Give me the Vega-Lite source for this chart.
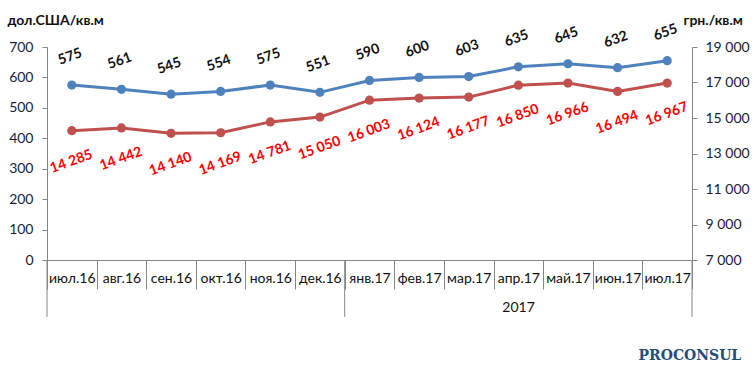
{
  "$schema": "https://vega.github.io/schema/vega-lite/v6.json",
  "width": 645,
  "height": 213,
  "autosize": {"type": "none"},
  "padding": {"left": 47, "top": 47, "right": 62, "bottom": 122},
  "background": "white",
  "config": {
    "view": {"stroke": null},
    "font": "Lato",
    "locale": {"number": {"decimal": ",", "thousands": "\u00a0", "grouping": [3], "currency": ["", ""]}}
  },
  "title": {
    "text": "PROCONSUL",
    "orient": "bottom",
    "anchor": "end",
    "font": "DejaVu Serif",
    "fontSize": 14,
    "fontWeight": "bold",
    "color": "#1F4E79",
    "offset": 32,
    "dx": -8
  },
  "data": {
    "values": [
      {"m": "июл.16", "usd": 575, "uah": 14285},
      {"m": "авг.16", "usd": 561, "uah": 14442},
      {"m": "сен.16", "usd": 545, "uah": 14140},
      {"m": "окт.16", "usd": 554, "uah": 14169},
      {"m": "ноя.16", "usd": 575, "uah": 14781},
      {"m": "дек.16", "usd": 551, "uah": 15050},
      {"m": "янв.17", "usd": 590, "uah": 16003},
      {"m": "фев.17", "usd": 600, "uah": 16124},
      {"m": "мар.17", "usd": 603, "uah": 16177},
      {"m": "апр.17", "usd": 635, "uah": 16850},
      {"m": "май.17", "usd": 645, "uah": 16966},
      {"m": "июн.17", "usd": 632, "uah": 16494},
      {"m": "июл.17", "usd": 655, "uah": 16967}
    ]
  },
  "encoding": {
    "x": {
      "field": "m",
      "type": "nominal",
      "sort": null,
      "scale": {
        "domain": ["июл.16", "авг.16", "сен.16", "окт.16", "ноя.16", "дек.16", "янв.17", "фев.17", "мар.17", "апр.17", "май.17", "июн.17", "июл.17"],
        "paddingInner": 0,
        "paddingOuter": 0
      },
      "axis": {
        "orient": "bottom",
        "labelAngle": 0,
        "tickBand": "extent",
        "tickSize": 29,
        "tickColor": "#868686",
        "domainColor": "#868686",
        "labelPadding": -18,
        "labelFontSize": 14,
        "labelColor": "#111",
        "title": "2017",
        "titleFontWeight": "normal",
        "titleFontSize": 14,
        "titleColor": "#111",
        "titleX": 471,
        "titleY": 47,
        "titleBaseline": "middle"
      }
    }
  },
  "layer": [
    {
      "encoding": {
        "y": {
          "field": "usd",
          "type": "quantitative",
          "scale": {"domain": [0, 700]},
          "axis": {
            "orient": "left",
            "values": [0, 100, 200, 300, 400, 500, 600, 700],
            "grid": false,
            "tickSize": 5,
            "tickColor": "#868686",
            "domainColor": "#868686",
            "labelPadding": 9,
            "labelFontSize": 14,
            "labelColor": "#1a1a3a",
            "title": "дол.США/кв.м",
            "titleAngle": 0,
            "titleX": -40,
            "titleY": -27,
            "titleAlign": "left",
            "titleBaseline": "middle",
            "titleFontSize": 14,
            "titleFontWeight": "bold",
            "titleColor": "#111"
          }
        }
      },
      "layer": [
        {
          "transform": [{"filter": "datum.m == 'июл.16' || datum.m == 'янв.17'"}],
          "mark": {"type": "rule", "color": "#868686", "strokeWidth": 1},
          "encoding": {
            "x": {"field": "m", "type": "nominal", "sort": null, "bandPosition": 0},
            "y": {"datum": 0, "type": "quantitative"},
            "y2": {"datum": -187}
          }
        },
        {
          "transform": [{"filter": "datum.m == 'июл.17'"}],
          "mark": {"type": "rule", "color": "#868686", "strokeWidth": 1},
          "encoding": {
            "x": {"field": "m", "type": "nominal", "sort": null, "bandPosition": 1},
            "y": {"datum": 0, "type": "quantitative"},
            "y2": {"datum": -187}
          }
        },
        {
          "mark": {"type": "line", "color": "#4F81BD", "strokeWidth": 3},
          "encoding": {"x": {"field": "m", "type": "nominal", "sort": null, "bandPosition": 0.5}}
        },
        {
          "mark": {"type": "point", "filled": true, "opacity": 1, "color": "#4F81BD", "size": 85},
          "encoding": {"x": {"field": "m", "type": "nominal", "sort": null, "bandPosition": 0.5}}
        },
        {
          "mark": {"type": "text", "angle": 340, "dy": -27, "dx": 8, "fontSize": 14, "fontWeight": "bold", "color": "#111"},
          "encoding": {
            "x": {"field": "m", "type": "nominal", "sort": null, "bandPosition": 0.5},
            "text": {"field": "usd", "type": "quantitative", "format": ",d"}
          }
        }
      ]
    },
    {
      "encoding": {
        "y": {
          "field": "uah",
          "type": "quantitative",
          "scale": {"domain": [7000, 19000]},
          "axis": {
            "orient": "right",
            "values": [7000, 9000, 11000, 13000, 15000, 17000, 19000],
            "format": ",d",
            "grid": false,
            "tickSize": 5,
            "tickColor": "#868686",
            "domainColor": "#868686",
            "labelPadding": 8,
            "labelFontSize": 14,
            "labelColor": "#1a1a3a",
            "title": "грн./кв.м",
            "titleAngle": 0,
            "titleX": -9,
            "titleY": -27,
            "titleAlign": "left",
            "titleBaseline": "middle",
            "titleFontSize": 14,
            "titleFontWeight": "bold",
            "titleColor": "#111"
          }
        }
      },
      "layer": [
        {
          "mark": {"type": "line", "color": "#C0504D", "strokeWidth": 3},
          "encoding": {"x": {"field": "m", "type": "nominal", "sort": null, "bandPosition": 0.5}}
        },
        {
          "mark": {"type": "point", "filled": true, "opacity": 1, "color": "#C0504D", "size": 85},
          "encoding": {"x": {"field": "m", "type": "nominal", "sort": null, "bandPosition": 0.5}}
        },
        {
          "mark": {"type": "text", "angle": 340, "dy": 29, "dx": -11, "fontSize": 14, "fontWeight": "bold", "color": "#FF0000"},
          "encoding": {
            "x": {"field": "m", "type": "nominal", "sort": null, "bandPosition": 0.5},
            "text": {"field": "uah", "type": "quantitative", "format": ",d"}
          }
        }
      ]
    }
  ],
  "resolve": {"scale": {"y": "independent"}}
}
